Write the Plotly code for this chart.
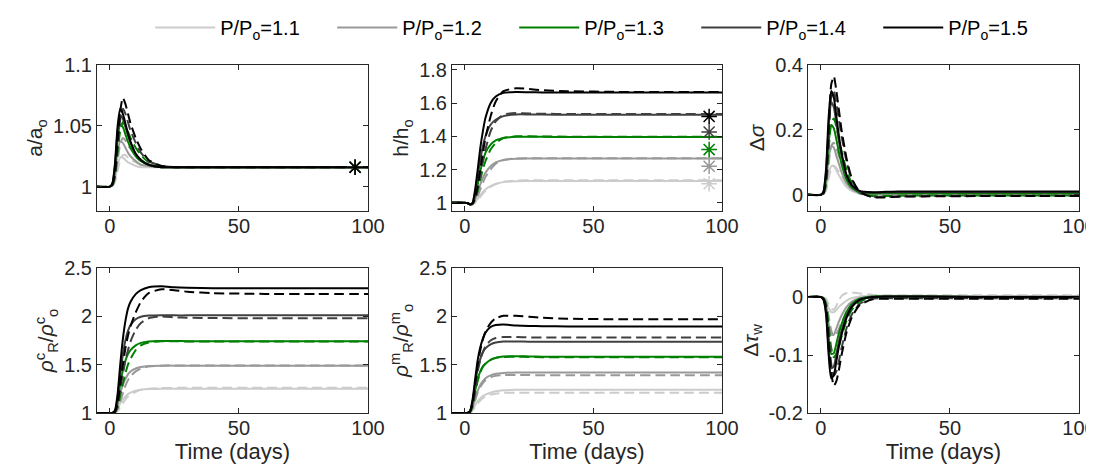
import plotly.graph_objects as go

# ---------------- data ----------------
T = [-5, 0, 1, 2, 3, 4, 5, 6, 7, 8, 10, 12, 15, 20, 25, 30, 40, 60, 80, 100]
pressures = ["1.1", "1.2", "1.3", "1.4", "1.5"]
colors = ["#cccccc", "#999999", "#008000", "#404040", "#000000"]
star_t = 95

# a/a_o
a_solid = [
    [1, 1, 1.001, 1.006, 1.018, 1.024, 1.024, 1.022, 1.020, 1.019, 1.017, 1.016, 1.016, 1.016, 1.016, 1.016, 1.016, 1.016, 1.016, 1.016],
    [1, 1, 1.002, 1.010, 1.029, 1.037, 1.036, 1.032, 1.028, 1.025, 1.021, 1.018, 1.017, 1.016, 1.016, 1.016, 1.016, 1.016, 1.016, 1.016],
    [1, 1, 1.002, 1.015, 1.040, 1.051, 1.049, 1.043, 1.037, 1.032, 1.025, 1.021, 1.018, 1.016, 1.016, 1.016, 1.016, 1.016, 1.016, 1.016],
    [1, 1, 1.003, 1.018, 1.046, 1.059, 1.056, 1.049, 1.042, 1.036, 1.027, 1.022, 1.018, 1.016, 1.016, 1.016, 1.016, 1.016, 1.016, 1.016],
    [1, 1, 1.003, 1.020, 1.050, 1.064, 1.060, 1.052, 1.044, 1.037, 1.027, 1.022, 1.018, 1.016, 1.016, 1.016, 1.016, 1.016, 1.016, 1.016],
]
a_dash = [
    [1, 1, 1.001, 1.004, 1.013, 1.022, 1.026, 1.026, 1.024, 1.022, 1.020, 1.018, 1.017, 1.0165, 1.016, 1.016, 1.016, 1.016, 1.016, 1.016],
    [1, 1, 1.001, 1.007, 1.022, 1.035, 1.040, 1.038, 1.034, 1.031, 1.026, 1.022, 1.018, 1.017, 1.016, 1.016, 1.016, 1.016, 1.016, 1.016],
    [1, 1, 1.001, 1.009, 1.029, 1.046, 1.053, 1.050, 1.045, 1.040, 1.032, 1.026, 1.020, 1.017, 1.016, 1.016, 1.016, 1.016, 1.016, 1.016],
    [1, 1, 1.002, 1.011, 1.034, 1.055, 1.064, 1.060, 1.053, 1.046, 1.036, 1.028, 1.021, 1.017, 1.016, 1.016, 1.016, 1.016, 1.016, 1.016],
    [1, 1, 1.002, 1.012, 1.038, 1.062, 1.073, 1.068, 1.060, 1.052, 1.040, 1.031, 1.022, 1.017, 1.016, 1.016, 1.016, 1.016, 1.016, 1.016],
]
a_star = [1.016, 1.016, 1.016, 1.016, 1.016]

# h/h_o
h_solid = [
    [1, 1, 0.998, 0.990, 0.992, 1.005, 1.025, 1.045, 1.065, 1.080, 1.100, 1.113, 1.124, 1.130, 1.131, 1.131, 1.131, 1.131, 1.131, 1.131],
    [1, 1, 0.998, 0.990, 0.994, 1.020, 1.060, 1.110, 1.150, 1.180, 1.220, 1.243, 1.258, 1.265, 1.266, 1.266, 1.266, 1.266, 1.266, 1.266],
    [1, 1, 0.998, 0.990, 0.996, 1.040, 1.110, 1.190, 1.250, 1.300, 1.350, 1.375, 1.390, 1.397, 1.397, 1.397, 1.396, 1.396, 1.396, 1.396],
    [1, 1, 0.998, 0.990, 0.998, 1.060, 1.160, 1.260, 1.340, 1.400, 1.470, 1.500, 1.522, 1.532, 1.532, 1.531, 1.530, 1.530, 1.530, 1.530],
    [1, 1, 0.998, 0.990, 1.000, 1.080, 1.200, 1.330, 1.430, 1.510, 1.600, 1.640, 1.662, 1.667, 1.666, 1.665, 1.664, 1.664, 1.664, 1.664],
]
h_dash = [
    [1, 1, 0.998, 0.990, 0.991, 1.000, 1.015, 1.035, 1.055, 1.070, 1.095, 1.112, 1.126, 1.134, 1.135, 1.135, 1.135, 1.135, 1.135, 1.135],
    [1, 1, 0.998, 0.990, 0.992, 1.010, 1.040, 1.080, 1.120, 1.155, 1.200, 1.235, 1.257, 1.267, 1.268, 1.268, 1.268, 1.268, 1.268, 1.268],
    [1, 1, 0.998, 0.990, 0.993, 1.020, 1.070, 1.140, 1.200, 1.250, 1.320, 1.360, 1.390, 1.400, 1.400, 1.399, 1.398, 1.398, 1.398, 1.398],
    [1, 1, 0.998, 0.990, 0.994, 1.030, 1.090, 1.170, 1.250, 1.320, 1.430, 1.490, 1.530, 1.540, 1.538, 1.536, 1.535, 1.534, 1.534, 1.534],
    [1, 1, 0.998, 0.990, 0.995, 1.030, 1.100, 1.200, 1.300, 1.390, 1.520, 1.610, 1.672, 1.690, 1.685, 1.678, 1.672, 1.668, 1.667, 1.667],
]
h_star = [1.114, 1.220, 1.320, 1.426, 1.520]

# delta sigma
s_solid = [
    [0, 0, 0.003, 0.022, 0.063, 0.088, 0.088, 0.075, 0.060, 0.046, 0.024, 0.012, 0.004, 0.001, 0.001, 0.001, 0.001, 0.001, 0.001, 0.001],
    [0, 0, 0.005, 0.040, 0.110, 0.150, 0.145, 0.120, 0.095, 0.070, 0.035, 0.017, 0.006, 0.003, 0.003, 0.003, 0.003, 0.003, 0.003, 0.003],
    [0, 0, 0.007, 0.055, 0.160, 0.215, 0.205, 0.170, 0.130, 0.095, 0.045, 0.022, 0.008, 0.004, 0.005, 0.005, 0.005, 0.005, 0.005, 0.005],
    [0, 0, 0.009, 0.070, 0.210, 0.285, 0.270, 0.220, 0.165, 0.120, 0.055, 0.027, 0.010, 0.006, 0.007, 0.008, 0.008, 0.008, 0.008, 0.008],
    [0, 0, 0.010, 0.080, 0.240, 0.320, 0.300, 0.240, 0.180, 0.130, 0.060, 0.030, 0.012, 0.008, 0.009, 0.010, 0.010, 0.010, 0.010, 0.010],
]
s_dash = [
    [0, 0, 0.002, 0.013, 0.050, 0.080, 0.090, 0.082, 0.070, 0.056, 0.033, 0.016, 0.003, -0.001, -0.001, -0.001, -0.001, -0.001, -0.001, -0.001],
    [0, 0, 0.003, 0.025, 0.095, 0.150, 0.160, 0.145, 0.120, 0.095, 0.055, 0.025, 0.004, -0.002, -0.002, -0.002, -0.001, -0.001, -0.001, -0.001],
    [0, 0, 0.004, 0.035, 0.140, 0.220, 0.235, 0.210, 0.170, 0.135, 0.075, 0.035, 0.006, -0.004, -0.004, -0.003, -0.002, -0.002, -0.002, -0.002],
    [0, 0, 0.005, 0.045, 0.180, 0.300, 0.320, 0.280, 0.230, 0.180, 0.100, 0.045, 0.008, -0.006, -0.006, -0.005, -0.004, -0.003, -0.003, -0.003],
    [0, 0, 0.005, 0.050, 0.200, 0.340, 0.365, 0.320, 0.260, 0.200, 0.110, 0.050, 0.010, -0.008, -0.008, -0.006, -0.005, -0.004, -0.004, -0.004],
]

# rho^c_R / rho^c_o
c_solid = [
    [1, 1, 1.0, 1.008, 1.040, 1.100, 1.140, 1.170, 1.195, 1.210, 1.230, 1.240, 1.247, 1.250, 1.250, 1.250, 1.250, 1.250, 1.250, 1.250],
    [1, 1, 1.0, 1.015, 1.080, 1.200, 1.290, 1.350, 1.400, 1.430, 1.460, 1.475, 1.487, 1.490, 1.490, 1.490, 1.490, 1.490, 1.490, 1.490],
    [1, 1, 1.0, 1.020, 1.120, 1.300, 1.440, 1.540, 1.610, 1.650, 1.700, 1.725, 1.740, 1.745, 1.745, 1.743, 1.742, 1.742, 1.742, 1.742],
    [1, 1, 1.0, 1.025, 1.160, 1.400, 1.600, 1.750, 1.850, 1.910, 1.970, 1.995, 2.008, 2.012, 2.010, 2.010, 2.010, 2.010, 2.010, 2.010],
    [1, 1, 1.0, 1.030, 1.200, 1.500, 1.760, 1.950, 2.080, 2.150, 2.230, 2.270, 2.300, 2.310, 2.300, 2.295, 2.290, 2.290, 2.290, 2.290],
]
c_dash = [
    [1, 1, 1.0, 1.004, 1.020, 1.060, 1.100, 1.140, 1.170, 1.190, 1.220, 1.240, 1.252, 1.258, 1.260, 1.260, 1.260, 1.260, 1.260, 1.260],
    [1, 1, 1.0, 1.007, 1.040, 1.120, 1.200, 1.280, 1.340, 1.380, 1.430, 1.460, 1.480, 1.490, 1.492, 1.492, 1.492, 1.492, 1.492, 1.492],
    [1, 1, 1.0, 1.010, 1.060, 1.180, 1.300, 1.410, 1.500, 1.560, 1.650, 1.700, 1.730, 1.742, 1.742, 1.740, 1.740, 1.740, 1.740, 1.740],
    [1, 1, 1.0, 1.013, 1.080, 1.240, 1.400, 1.540, 1.650, 1.740, 1.860, 1.930, 1.980, 1.998, 1.990, 1.985, 1.982, 1.980, 1.980, 1.980],
    [1, 1, 1.0, 1.015, 1.100, 1.300, 1.500, 1.670, 1.800, 1.900, 2.040, 2.150, 2.240, 2.280, 2.270, 2.255, 2.240, 2.232, 2.230, 2.230],
]

# rho^m_R / rho^m_o
m_solid = [
    [1, 1, 1.0, 1.005, 1.030, 1.080, 1.120, 1.150, 1.175, 1.190, 1.210, 1.225, 1.235, 1.240, 1.240, 1.240, 1.240, 1.240, 1.240, 1.240],
    [1, 1, 1.0, 1.010, 1.060, 1.150, 1.230, 1.290, 1.330, 1.360, 1.390, 1.405, 1.415, 1.420, 1.420, 1.420, 1.420, 1.420, 1.420, 1.420],
    [1, 1, 1.0, 1.014, 1.090, 1.230, 1.350, 1.430, 1.480, 1.510, 1.550, 1.570, 1.585, 1.588, 1.585, 1.583, 1.582, 1.582, 1.582, 1.582],
    [1, 1, 1.0, 1.018, 1.120, 1.300, 1.460, 1.560, 1.630, 1.670, 1.710, 1.730, 1.740, 1.740, 1.738, 1.737, 1.736, 1.736, 1.736, 1.736],
    [1, 1, 1.0, 1.020, 1.140, 1.350, 1.550, 1.680, 1.770, 1.830, 1.890, 1.910, 1.915, 1.905, 1.900, 1.898, 1.896, 1.896, 1.896, 1.896],
]
m_dash = [
    [1, 1, 1.0, 1.004, 1.025, 1.060, 1.100, 1.130, 1.155, 1.170, 1.190, 1.200, 1.208, 1.210, 1.210, 1.210, 1.210, 1.210, 1.210, 1.210],
    [1, 1, 1.0, 1.007, 1.050, 1.130, 1.210, 1.270, 1.310, 1.340, 1.370, 1.385, 1.392, 1.393, 1.392, 1.390, 1.390, 1.390, 1.390, 1.390],
    [1, 1, 1.0, 1.010, 1.070, 1.200, 1.330, 1.420, 1.480, 1.510, 1.550, 1.570, 1.580, 1.582, 1.580, 1.578, 1.577, 1.577, 1.577, 1.577],
    [1, 1, 1.0, 1.013, 1.090, 1.260, 1.430, 1.550, 1.630, 1.690, 1.750, 1.775, 1.785, 1.785, 1.782, 1.780, 1.780, 1.780, 1.780, 1.780],
    [1, 1, 1.0, 1.015, 1.100, 1.300, 1.500, 1.650, 1.760, 1.840, 1.930, 1.980, 2.005, 2.005, 1.995, 1.985, 1.975, 1.970, 1.970, 1.970],
]

# delta tau_w
w_solid = [
    [0, 0, -0.001, -0.006, -0.019, -0.026, -0.026, -0.022, -0.017, -0.013, -0.006, -0.002, 0.001, 0.002, 0.002, 0.002, 0.002, 0.001, 0.001, 0.001],
    [0, 0, -0.002, -0.013, -0.046, -0.065, -0.065, -0.054, -0.042, -0.032, -0.017, -0.008, -0.002, 0.001, 0.001, 0.001, 0.001, 0.001, 0.001, 0.001],
    [0, 0, -0.003, -0.020, -0.070, -0.098, -0.097, -0.080, -0.062, -0.047, -0.025, -0.012, -0.003, 0.001, 0.001, 0.001, 0.001, 0.0, 0.0, 0.0],
    [0, 0, -0.004, -0.026, -0.088, -0.123, -0.120, -0.098, -0.076, -0.058, -0.031, -0.015, -0.004, 0.0, 0.001, 0.001, 0.001, 0.0, 0.0, 0.0],
    [0, 0, -0.005, -0.030, -0.100, -0.140, -0.135, -0.110, -0.085, -0.065, -0.035, -0.017, -0.005, 0.0, 0.001, 0.001, 0.001, 0.0, 0.0, 0.0],
]
w_dash = [
    [0, 0, -0.001, -0.003, -0.012, -0.020, -0.022, -0.015, -0.006, 0.002, 0.007, 0.008, 0.006, 0.004, 0.003, 0.003, 0.003, 0.003, 0.003, 0.003],
    [0, 0, -0.001, -0.008, -0.033, -0.058, -0.068, -0.064, -0.055, -0.044, -0.026, -0.013, -0.004, 0.001, 0.001, 0.001, 0.001, 0.001, 0.001, 0.001],
    [0, 0, -0.002, -0.012, -0.050, -0.088, -0.104, -0.098, -0.085, -0.068, -0.040, -0.022, -0.008, -0.001, 0.0, 0.0, 0.0, 0.0, 0.0, 0.0],
    [0, 0, -0.003, -0.016, -0.066, -0.115, -0.135, -0.128, -0.110, -0.088, -0.053, -0.030, -0.012, -0.003, -0.002, -0.002, -0.002, -0.002, -0.002, -0.002],
    [0, 0, -0.003, -0.018, -0.075, -0.130, -0.153, -0.145, -0.125, -0.100, -0.060, -0.035, -0.014, -0.004, -0.003, -0.003, -0.003, -0.003, -0.003, -0.003],
]

panels = [
    dict(solid=a_solid, dash=a_dash, star=a_star, title="a/a<sub>o</sub>", yr=[0.98, 1.1], tv=[1, 1.05, 1.1], tt=["1", "1.05", "1.1"]),
    dict(solid=h_solid, dash=h_dash, star=h_star, title="h/h<sub>o</sub>", yr=[0.95, 1.83], tv=[1, 1.2, 1.4, 1.6, 1.8], tt=["1", "1.2", "1.4", "1.6", "1.8"]),
    dict(solid=s_solid, dash=s_dash, star=None, title="Δ<i>σ</i>", yr=[-0.05, 0.4], tv=[0, 0.2, 0.4], tt=["0", "0.2", "0.4"]),
    dict(solid=c_solid, dash=c_dash, star=None, title="<i>ρ</i><sup>c</sup><sub>R</sub>/<i>ρ</i><sup>c</sup><sub>o</sub>", yr=[1, 2.5], tv=[1, 1.5, 2, 2.5], tt=["1", "1.5", "2", "2.5"]),
    dict(solid=m_solid, dash=m_dash, star=None, title="<i>ρ</i><sup>m</sup><sub>R</sub>/<i>ρ</i><sup>m</sup><sub>o</sub>", yr=[1, 2.5], tv=[1, 1.5, 2, 2.5], tt=["1", "1.5", "2", "2.5"]),
    dict(solid=w_solid, dash=w_dash, star=None, title="Δ<i>τ</i><sub>w</sub>", yr=[-0.2, 0.05], tv=[-0.2, -0.1, 0], tt=["-0.2", "-0.1", "0"]),
]

# ---------------- layout geometry (pixels) ----------------
W, H = 1094, 470
col_px = [(89, 360), (444, 714), (800, 1071)]
row_px = [(57, 203), (260, 405)]
FONT = "Liberation Sans, Arial, sans-serif"
TXT = "#262626"
DASH = "10px,5px"

fig = go.Figure()
layout = {}
for k, p in enumerate(panels):
    r, c = divmod(k, 3)
    ax = "" if k == 0 else str(k + 1)
    xref, yref = "x" + ax, "y" + ax
    for i, pr in enumerate(pressures):
        fig.add_trace(go.Scatter(
            x=T, y=p["solid"][i], mode="lines", xaxis=xref, yaxis=yref,
            line=dict(color=colors[i], width=2, shape="spline", smoothing=0.6),
            name="P/P<sub>o</sub>=" + pr, legendgroup=pr, showlegend=(k == 0),
        ))
        fig.add_trace(go.Scatter(
            x=T, y=p["dash"][i], mode="lines", xaxis=xref, yaxis=yref,
            line=dict(color=colors[i], width=2, dash=DASH, shape="spline", smoothing=0.6),
            legendgroup=pr, showlegend=False,
        ))
    if p["star"] is not None:
        for i, pr in enumerate(pressures):
            fig.add_trace(go.Scatter(
                x=[star_t], y=[p["star"][i]], mode="markers", xaxis=xref, yaxis=yref,
                marker=dict(symbol="asterisk-open", size=13, color=colors[i],
                            line=dict(color=colors[i], width=1.5)),
                legendgroup=pr, showlegend=False,
            ))
    x0, x1 = col_px[c]
    y0, y1 = row_px[r]
    common = dict(showline=True, mirror="ticks", linecolor=TXT, linewidth=1,
                  ticks="inside", ticklen=5, tickcolor=TXT, showgrid=False,
                  zeroline=False, automargin=False,
                  tickfont=dict(family=FONT, size=20, color=TXT))
    xa = dict(common, domain=[x0 / W, x1 / W], range=[-5, 100], anchor=yref,
              tickvals=[0, 50, 100], ticktext=["0", "50", "100"], ticklabelstandoff=-3)
    if r == 1:
        xa["title"] = dict(text="Time (days)", font=dict(family=FONT, size=22, color=TXT), standoff=2)
    layout["xaxis" + ax] = xa
    layout["yaxis" + ax] = dict(
        common, domain=[1 - y1 / H, 1 - y0 / H], range=p["yr"], anchor=xref,
        tickvals=p["tv"], ticktext=p["tt"],
        title=dict(text=p["title"], font=dict(family=FONT, size=21, color=TXT), standoff=4),
    )

fig.update_layout(
    **layout,
    width=W, height=H,
    margin=dict(l=0, r=0, t=0, b=0),
    paper_bgcolor="white", plot_bgcolor="white",
    font=dict(family=FONT, color=TXT),
    legend=dict(orientation="h", x=0.13, xanchor="left", y=1.0, yanchor="top",
                font=dict(family=FONT, size=20, color="#000000"),
                itemwidth=60, entrywidth=107, bgcolor="rgba(0,0,0,0)"),
)
fig.write_html("out.html")
